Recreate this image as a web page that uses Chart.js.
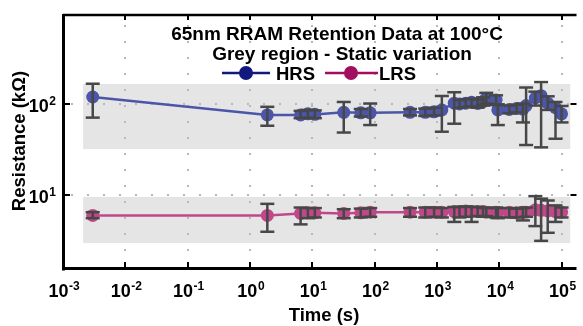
<!DOCTYPE html>
<html>
<head>
<meta charset="utf-8">
<script src="https://cdn.jsdelivr.net/npm/chart.js@4.4.0/dist/chart.umd.min.js"></script>
<style>
  html, body { margin: 0; padding: 0; background: #fff; }
  canvas { display: block; }
</style>
</head>
<body>
<canvas id="retention" width="583" height="326"></canvas>
<script>
// Retention data (time in s, resistance in kOhm)
const timeS = [0.003, 1.9, 6.5, 8.5, 11, 32, 60, 85, 370, 650, 900, 1200, 1900, 2300, 2900,
  3600, 4500, 5500, 6200, 8900, 9500, 14500, 19000, 24000, 27000, 38000, 47000, 60000, 80000, 100000];

const hrsMean = [118, 75, 75, 77, 76, 80, 79, 79, 80, 80, 81, 85, 101, 99, 101,
  103, 100, 105, 114, 109, 85, 86, 88, 87, 95, 115, 122, 101, 90, 77];
const hrsLow  = [70, 57, 69, 70, 69, 48, 72, 58, 74, 73, 74, 49, 60, 90, 92,
  93, 90, 95, 100, 96, 58, 78, 80, 62, 35, 95, 33, 85, 41, 62];
const hrsHigh = [165, 92, 83, 85, 84, 104, 87, 100, 87, 88, 90, 121, 133, 109, 111,
  113, 110, 117, 131, 123, 98, 95, 97, 100, 150, 135, 172, 120, 104, 94];

const lrsMean = [5.9, 5.9, 6.2, 6.3, 6.3, 6.2, 6.3, 6.4, 6.4, 6.4, 6.4, 6.4, 6.5, 6.5, 6.6,
  6.5, 6.5, 6.5, 6.4, 6.4, 6.3, 6.4, 6.3, 6.4, 6.4, 6.8, 6.7, 6.6, 6.5, 6.4];
const lrsLow  = [5.5, 3.9, 4.7, 5.5, 5.6, 5.5, 5.6, 5.7, 5.7, 5.6, 5.7, 5.6, 5.0, 5.6, 5.7,
  5.0, 5.8, 5.7, 5.8, 5.6, 5.5, 5.6, 5.6, 5.2, 5.7, 4.5, 3.1, 3.8, 5.0, 5.6];
const lrsHigh = [6.4, 7.9, 7.2, 7.1, 7.1, 6.9, 7.0, 7.1, 7.1, 7.2, 7.2, 7.1, 7.3, 7.3, 7.4,
  7.3, 7.3, 7.2, 7.1, 7.2, 7.1, 7.1, 7.0, 7.1, 7.2, 9.6, 9.0, 8.6, 7.6, 7.2];

// static variation bands (grey regions)
const bandTime = [0.0021, 1.38e5];
const hrsBand = [31.6, 164];
const lrsBand = [2.93, 9.4];

// axis ticks (decade exponents)
const xTickExp = [-3, -2, -1, 0, 1, 2, 3, 4, 5];
const yTickExp = [1, 2];

const FONT = '"Liberation Sans", Arial, Helvetica, sans-serif';
const HRS_COLOR = '#4b56a9';
const LRS_COLOR = '#c0488a';

function toPoints(vals) {
  return timeS.map((t, i) => ({ x: t, y: vals[i] }));
}

function line(ctx, x0, y0, x1, y1) {
  ctx.beginPath();
  ctx.moveTo(x0, y0);
  ctx.lineTo(x1, y1);
  ctx.stroke();
}

// draws "10" with a raised exponent, anchored by align ('center' or 'right')
function drawPow(ctx, e, x, baseY, align) {
  const base = '10', exp = String(e);
  ctx.font = 'bold 18px ' + FONT;
  const wb = ctx.measureText(base).width;
  ctx.font = 'bold 12px ' + FONT;
  const we = ctx.measureText(exp).width;
  const w = wb + we + 0.5;
  const left = align === 'right' ? x - w : x - w / 2;
  ctx.textAlign = 'left';
  ctx.textBaseline = 'alphabetic';
  ctx.font = 'bold 18px ' + FONT;
  ctx.fillText(base, left, baseY);
  ctx.font = 'bold 12px ' + FONT;
  ctx.fillText(exp, left + wb + 0.5, baseY - 7);
}

const decor = {
  id: 'decor',
  beforeDatasetsDraw(chart) {
    const { ctx, chartArea: a, scales: { x, y } } = chart;
    ctx.save();
    // grey regions
    ctx.fillStyle = '#e5e5e5';
    [hrsBand, lrsBand].forEach(b => {
      const x0 = x.getPixelForValue(bandTime[0]), x1 = x.getPixelForValue(bandTime[1]);
      const y0 = y.getPixelForValue(b[1]), y1 = y.getPixelForValue(b[0]);
      ctx.fillRect(x0, y0, x1 - x0, y1 - y0);
    });
    // dotted grid
    ctx.strokeStyle = '#b8b8b8';
    ctx.lineWidth = 2;
    ctx.setLineDash([2, 14]);
    xTickExp.slice(1).forEach(e => {
      const px = Math.round(x.getPixelForValue(Math.pow(10, e)));
      line(ctx, px, a.top + 10, px, a.bottom);
    });
    yTickExp.forEach(e => {
      const py = Math.round(y.getPixelForValue(Math.pow(10, e)));
      line(ctx, a.left + 8, py, a.right, py);
    });
    ctx.restore();
  },
  afterDatasetsDraw(chart) {
    const { ctx, chartArea: a, scales: { x, y } } = chart;
    ctx.save();
    // error bars
    ctx.strokeStyle = '#474747';
    ctx.lineWidth = 2.5;
    const cap = 7;
    [[hrsLow, hrsHigh], [lrsLow, lrsHigh]].forEach(([lo, hi]) => {
      timeS.forEach((t, i) => {
        const px = x.getPixelForValue(t);
        const pl = y.getPixelForValue(lo[i]), ph = y.getPixelForValue(hi[i]);
        line(ctx, px, pl, px, ph);
        line(ctx, px - cap, pl, px + cap, pl);
        line(ctx, px - cap, ph, px + cap, ph);
      });
    });

    // axes box
    ctx.strokeStyle = '#000';
    ctx.lineWidth = 3;
    line(ctx, a.left + 0.5, a.top - 1, a.left + 0.5, a.bottom + 1.5);
    line(ctx, a.left - 1, a.bottom - 0.5, a.right, a.bottom - 0.5);
    ctx.lineWidth = 2.5;
    line(ctx, a.left, a.top, a.right, a.top);

    // tick marks (inward)
    ctx.lineWidth = 2;
    xTickExp.slice(1).forEach(e => {
      const px = Math.round(x.getPixelForValue(Math.pow(10, e)));
      line(ctx, px, a.bottom - 2, px, a.bottom - 7);
      line(ctx, px, a.top, px, a.top + 5);
    });
    yTickExp.forEach(e => {
      const py = Math.round(y.getPixelForValue(Math.pow(10, e)));
      line(ctx, a.left + 2, py, a.left + 7, py);
      line(ctx, a.right - 6, py, a.right, py);
    });

    // tick labels
    ctx.fillStyle = '#000';
    xTickExp.forEach(e => drawPow(ctx, e, x.getPixelForValue(Math.pow(10, e)) + 1, 297, 'center'));
    yTickExp.forEach(e => drawPow(ctx, e, 56, y.getPixelForValue(Math.pow(10, e)) + 8.5, 'right'));

    // axis titles
    ctx.font = 'bold 18.5px ' + FONT;
    ctx.textAlign = 'center';
    ctx.textBaseline = 'alphabetic';
    ctx.fillText('Time (s)', 324, 321);
    ctx.save();
    ctx.translate(24.5, 141);
    ctx.rotate(-Math.PI / 2);
    ctx.fillText('Resistance (k\u03A9)', 0, 0);
    ctx.restore();

    // title inside the axes
    ctx.font = 'bold 19px ' + FONT;
    ctx.fillText('65nm RRAM Retention Data at 100\u00B0C', 337, 40);
    ctx.fillText('Grey region - Static variation', 342, 60);

    // legend
    const items = [
      { label: 'HRS', color: '#12197e', x0: 222, x1: 270, dot: 246, tx: 276 },
      { label: 'LRS', color: '#a30d5f', x0: 325, x1: 378, dot: 351, tx: 379 }
    ];
    items.forEach(it => {
      ctx.strokeStyle = it.color;
      ctx.fillStyle = it.color;
      ctx.lineWidth = 2.5;
      line(ctx, it.x0, 73, it.x1, 73);
      ctx.beginPath();
      ctx.arc(it.dot, 73, 7, 0, Math.PI * 2);
      ctx.fill();
      ctx.fillStyle = '#000';
      ctx.textAlign = 'left';
      ctx.font = 'bold 18.5px ' + FONT;
      ctx.fillText(it.label, it.tx, 80);
    });
    ctx.restore();
  }
};

new Chart(document.getElementById('retention'), {
  type: 'line',
  data: {
    datasets: [
      {
        label: 'HRS',
        data: toPoints(hrsMean),
        borderColor: HRS_COLOR,
        backgroundColor: HRS_COLOR,
        borderWidth: 2.5,
        pointRadius: 6.5,
        pointBorderWidth: 0,
        tension: 0
      },
      {
        label: 'LRS',
        data: toPoints(lrsMean),
        borderColor: LRS_COLOR,
        backgroundColor: LRS_COLOR,
        borderWidth: 2.5,
        pointRadius: 6.5,
        pointBorderWidth: 0,
        tension: 0
      }
    ]
  },
  options: {
    responsive: false,
    animation: false,
    devicePixelRatio: 1,
    layout: { padding: { left: 63, right: 0, top: 15, bottom: 57 } },
    plugins: {
      legend: { display: false },
      title: { display: false },
      tooltip: { enabled: false }
    },
    scales: {
      x: {
        type: 'logarithmic',
        display: false,
        min: 1e-3,
        max: Math.pow(10, 5.24)
      },
      y: {
        type: 'logarithmic',
        display: false,
        min: 1.52,
        max: 939
      }
    }
  },
  plugins: [decor]
});
</script>
</body>
</html>
